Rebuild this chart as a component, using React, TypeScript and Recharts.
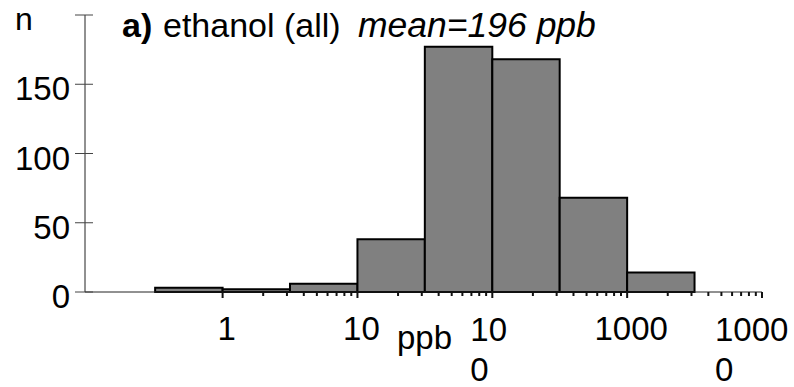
import React from "react";
import { ComposedChart, XAxis, YAxis, ReferenceArea, Line } from "recharts";

// ---- data ----
const binLow = [0.316, 1, 3.16, 10, 31.6, 100, 316, 1000];
const binHigh = [1, 3.16, 10, 31.6, 100, 316, 1000, 3160];
const counts = [3, 2, 6, 38, 177, 168, 68, 14];

const yTicks = [0, 50, 100, 150, 200];
const yTickLabels = ["0", "50", "100", "150", ""];

const xMajorTicks = [1, 10, 100, 1000, 10000];
const xTickLabelLines = [["1"], ["10"], ["10", "0"], ["1000"], ["1000", "0"]];
const xTickLineDx = [0, 0, -22, 0, -47];
const minorMultipliers = [2, 3, 4, 5, 6, 7, 8, 9];

const titleBold = "a)";
const titleMain = "ethanol (all)";
const titleItalic = "mean=196 ppb";
const yAxisName = "n";
const xAxisName = "ppb";

// ---- derived ----
const xTicks: number[] = [];
for (let d = 0; d < xMajorTicks.length; d++) {
  xTicks.push(xMajorTicks[d]);
  if (d < xMajorTicks.length - 1) {
    for (const m of minorMultipliers) xTicks.push(xMajorTicks[d] * m);
  }
}
const data = binLow.map((lo, i) => ({
  x: Math.sqrt(lo * binHigh[i]),
  count: counts[i],
}));

const FONT = "'Liberation Sans', Arial, Helvetica, sans-serif";

const XTick = (props: any) => {
  const { x, y, payload } = props;
  const v = payload.value;
  const idx = xMajorTicks.indexOf(v);
  if (idx < 0) {
    return <line x1={x} x2={x} y1={y} y2={y + 4} stroke="#111" strokeWidth={2} />;
  }
  const lines = xTickLabelLines[idx];
  return (
    <g>
      <line x1={x} x2={x} y1={y} y2={y + 6} stroke="#111" strokeWidth={2} />
      {lines.length === 1 ? (
        <text x={x + 4} y={y + 48} textAnchor="middle" fontSize={33} fontFamily={FONT} fill="#000">
          {lines[0]}
        </text>
      ) : (
        <text x={x + xTickLineDx[idx]} y={y + 49} textAnchor="start" fontSize={33} fontFamily={FONT} fill="#000">
          {lines.map((l, k) => (
            <tspan key={k} x={x + xTickLineDx[idx]} dy={k === 0 ? 0 : 40}>
              {l}
            </tspan>
          ))}
        </text>
      )}
    </g>
  );
};

const YTick = (props: any) => {
  const { x, y, payload } = props;
  const idx = yTicks.indexOf(payload.value);
  return (
    <g>
      <line x1={x - 10} x2={x + 8} y1={y} y2={y} stroke="#444" strokeWidth={1} />
      <text x={x - 15} y={y + 16} textAnchor="end" fontSize={33} fontFamily={FONT} fill="#000">
        {idx >= 0 ? yTickLabels[idx] : ""}
      </text>
    </g>
  );
};

export default function App() {
  return (
    <div style={{ position: "absolute", left: 0, top: 0, width: 794, height: 387, background: "#fff" }}>
      <ComposedChart
        width={794}
        height={387}
        data={data}
        margin={{ top: 15, right: 32, bottom: 0, left: 25 }}
      >
        <XAxis
          dataKey="x"
          type="number"
          scale="log"
          domain={[0.0954, 10000]}
          allowDataOverflow
          ticks={xTicks}
          interval={0}
          tick={<XTick />}
          tickLine={false}
          tickSize={0}
          tickMargin={0}
          height={95}
          axisLine={{ stroke: "#222", strokeWidth: 1 }}
        />
        <YAxis
          type="number"
          domain={[0, 200]}
          ticks={yTicks}
          interval={0}
          tick={<YTick />}
          tickLine={false}
          tickSize={0}
          tickMargin={0}
          width={60}
          axisLine={{ stroke: "#222", strokeWidth: 1 }}
        />
        {binLow.map((lo, i) => (
          <ReferenceArea
            key={i}
            x1={lo}
            x2={binHigh[i]}
            y1={0}
            y2={counts[i]}
            fill="#808080"
            fillOpacity={1}
            stroke="#000"
            strokeWidth={2}
            strokeOpacity={1}
          />
        ))}
        <Line dataKey="count" stroke="none" dot={false} activeDot={false} isAnimationActive={false} />
      </ComposedChart>
      <svg
        width={794}
        height={387}
        style={{ position: "absolute", left: 0, top: 0, pointerEvents: "none" }}
      >
        <text x={15} y={30} fontSize={32} fontFamily={FONT} fill="#000">
          {yAxisName}
        </text>
        <text y={37} fontSize={34} fontFamily={FONT} fill="#000">
          <tspan x={122} fontWeight="bold">{titleBold}</tspan>
          <tspan x={163}>{titleMain}</tspan>
          <tspan x={358} fontStyle="italic" fontSize={35.5}>{titleItalic}</tspan>
        </text>
        <text x={397} y={349} fontSize={33} fontFamily={FONT} fill="#000">
          {xAxisName}
        </text>
      </svg>
    </div>
  );
}
